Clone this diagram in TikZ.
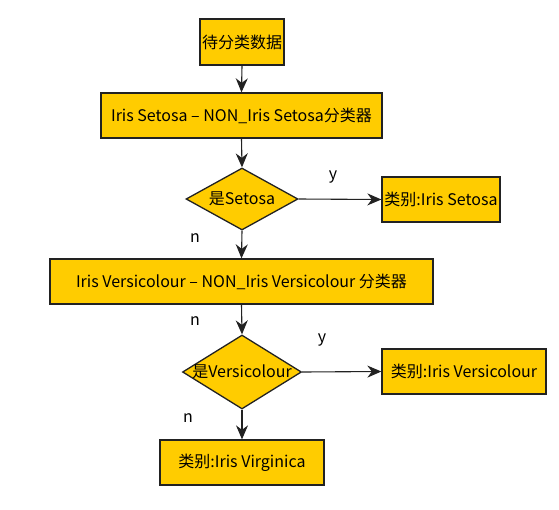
\documentclass[tikz,border=0pt]{standalone}
\usepackage{fontspec}
\setmainfont{Noto Sans CJK SC}
\usetikzlibrary{arrows.meta,shapes.geometric}
\definecolor{boxfill}{HTML}{FFCC00}
\definecolor{edge}{HTML}{222222}
\begin{document}
\begin{tikzpicture}[x=1pt,y=-1pt,
  base/.style={draw=edge,line width=1.3pt,fill=boxfill,font=\fontsize{16}{18}\selectfont,inner sep=0pt},
  rect/.style={base,rectangle},
  dia/.style={base,diamond},
  conn/.style={draw=edge,line width=1.1pt,-{Stealth[length=14pt,width=12pt,inset=4.5pt]}},
  lbl/.style={font=\fontsize{16}{18}\selectfont,inner sep=0pt}]
\useasboundingbox (0,0) rectangle (559,509);
\node[rect,minimum width=84pt,minimum height=46pt] (start) at (242,42) {待分类数据};
\node[rect,minimum width=281pt,minimum height=45pt] (c1) at (241.5,115.5) {Iris Setosa – NON\_Iris Setosa分类器};
\node[dia,minimum width=112pt,minimum height=62pt] (d1) at (242,199) {};
\node[lbl] (d1t) at (242,199) {是Setosa};
\node[rect,minimum width=118pt,minimum height=45pt] (r1) at (441,199.5) {类别:Iris Setosa};
\node[rect,minimum width=383pt,minimum height=45pt] (c2) at (241.5,281.5) {Iris Versicolour – NON\_Iris Versicolour 分类器};
\node[dia,minimum width=119pt,minimum height=74pt] (d2) at (242,372) {};
\node[lbl] (d2t) at (242,372) {是Versicolour};
\node[rect,minimum width=164pt,minimum height=45pt] (r2) at (464,371.5) {类别:Iris Versicolour};
\node[rect,minimum width=164pt,minimum height=45pt] (r3) at (242,462.5) {类别:Iris Virginica};
\draw[conn] (start.south) -- (c1.north);
\draw[conn] (c1.south) -- (d1.north);
\draw[conn] (d1.east) -- (r1.west);
\draw[conn] (d1.south) -- (c2.north);
\draw[conn] (c2.south) -- (d2.north);
\draw[conn] (d2.east) -- (r2.west);
\draw[conn] (d2.south) -- (r3.north);
\node[lbl] (y1) at (333,177) {y};
\node[lbl] (n1) at (195,238) {n};
\node[lbl] (n2) at (195,321) {n};
\node[lbl] (y2) at (322,340) {y};
\node[lbl] (n3) at (188,418) {n};
\end{tikzpicture}
\end{document}
